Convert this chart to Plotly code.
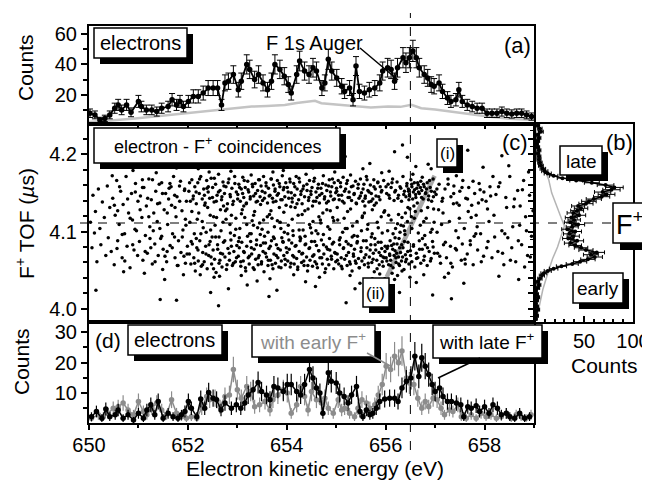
import plotly.graph_objects as go

# The page body has an 8 px margin, so the figure is drawn 8 px smaller and shifted.
OFF = 8
FW, FH = 642, 479
def PX(x): return (x - OFF) / FW
def PY(y): return 1 - (y - OFF) / FH

FONT = "Arial, Liberation Sans, sans-serif"

# ---------------- Panel (a): electrons ----------------
A_E = [650.02, 650.12, 650.22, 650.32, 650.42, 650.52, 650.59, 650.66, 650.76, 650.85,
       651.00, 651.06, 651.16, 651.27, 651.37, 651.47, 651.60, 651.68, 651.77, 651.84,
       651.91, 652.01, 652.11, 652.21, 652.31, 652.41, 652.51, 652.60, 652.68, 652.75,
       652.82, 652.92, 653.02, 653.08, 653.19, 653.25, 653.35, 653.43, 653.52, 653.61,
       653.69, 653.76, 653.86, 653.95, 654.03, 654.09, 654.20, 654.26, 654.36, 654.45,
       654.53, 654.60, 654.71, 654.77, 654.84, 654.91, 655.01, 655.11, 655.17, 655.27,
       655.34, 655.40, 655.47, 655.57, 655.67, 655.78, 655.88, 655.94, 656.04, 656.11,
       656.18, 656.24, 656.35, 656.41, 656.48, 656.55, 656.62, 656.68, 656.78, 656.85,
       656.92, 656.98, 657.08, 657.15, 657.25, 657.32, 657.42, 657.48, 657.55, 657.65,
       657.75, 657.85, 657.95, 658.05, 658.15, 658.25, 658.35, 658.45, 658.55, 658.65,
       658.75, 658.85, 658.95]
A_COUNTS = [7.8, 6.7, 3.3, 4.4, 6.7, 11.1, 13.3, 10.0, 13.3, 8.4,
            15.6, 12.2, 10.0, 10.0, 8.9, 11.1, 12.2, 16.7, 13.3, 15.6,
            12.2, 15.6, 18.9, 18.9, 21.1, 24.4, 24.4, 24.4, 13.3, 27.8,
            28.9, 33.3, 23.3, 28.9, 40.0, 36.7, 30.0, 33.3, 27.8, 23.3,
            28.9, 40.0, 36.7, 32.2, 26.7, 21.1, 33.3, 42.2, 35.6, 33.3,
            37.8, 35.6, 24.4, 27.8, 43.3, 35.6, 31.1, 25.6, 22.2, 24.4,
            16.7, 38.9, 22.2, 21.1, 23.3, 24.4, 27.8, 35.6, 37.8, 36.7,
            28.9, 37.8, 44.4, 41.1, 44.4, 48.9, 44.4, 37.8, 33.3, 31.1,
            26.7, 25.6, 27.8, 22.2, 17.8, 15.6, 16.7, 23.3, 15.6, 13.3,
            12.2, 11.1, 11.1, 7.8, 7.8, 7.8, 8.9, 7.8, 7.3, 7.8,
            7.8, 6.7, 5.6]
A_BG_E = [650.0, 650.12, 650.5, 650.93, 651.4, 651.94, 652.3, 652.61, 653.0, 653.29,
          653.6, 653.96, 654.2, 654.4, 654.57, 654.7, 655.0, 655.37, 655.7, 656.05,
          656.3, 656.52, 656.72, 657.0, 657.39, 657.7, 658.07, 658.5, 659.0]
A_BG = [2.0, 2.2, 3.2, 4.4, 6.0, 7.8, 8.6, 10.0, 11.0, 12.2,
        12.6, 13.3, 14.6, 15.5, 16.0, 14.4, 13.6, 12.2, 11.6, 12.2,
        12.0, 13.3, 11.1, 10.2, 8.4, 7.2, 5.6, 4.2, 3.3]

# ---------------- Panel (b): F+ TOF histogram ----------------
B_TOF = [3.987, 3.991, 3.995, 3.999, 4.003, 4.007, 4.011, 4.015, 4.019, 4.023,
         4.027, 4.031, 4.035, 4.039, 4.043, 4.046, 4.049, 4.052, 4.055, 4.058,
         4.061, 4.064, 4.067, 4.070, 4.073, 4.076, 4.079, 4.082, 4.085, 4.088,
         4.091, 4.094, 4.097, 4.100, 4.103, 4.106, 4.109, 4.112, 4.115, 4.118,
         4.121, 4.124, 4.127, 4.130, 4.133, 4.136, 4.139, 4.142, 4.145, 4.148,
         4.151, 4.154, 4.157, 4.160, 4.163, 4.166, 4.169, 4.172, 4.175, 4.178,
         4.181, 4.185, 4.189, 4.193, 4.197, 4.201, 4.205, 4.209, 4.213, 4.217,
         4.221, 4.225, 4.229, 4.233, 4.237]
B_COUNTS = [1, 2, 1, 3, 2, 1, 2, 3, 2, 1,
            3, 4, 3, 5, 7, 9, 13, 19, 27, 38,
            46, 54, 61, 57, 63, 52, 47, 41, 36, 43,
            34, 39, 35, 41, 33, 38, 44, 36, 40, 37,
            45, 39, 43, 47, 44, 52, 55, 60, 68, 73,
            69, 78, 81, 72, 58, 42, 28, 19, 13, 10,
            8, 6, 5, 4, 4, 3, 4, 3, 2, 3,
            4, 3, 6, 5, 3]
B_BG_TOF = [3.989, 4.002, 4.025, 4.050, 4.065, 4.080, 4.095, 4.107, 4.120, 4.137,
            4.150, 4.167, 4.189, 4.205, 4.220, 4.236]
B_BG = [2, 4, 8, 14, 18, 23, 27, 30, 26, 21, 17, 14, 7, 4, 2, 2]

# ---------------- Panel (c): electron - F+ coincidences (E in eV, TOF in us) ----------------
C_POINTS = [
 (650.03,4.112),(650.06,4.079),(650.08,4.147),(650.11,4.098),(650.13,4.126),(650.16,4.061),(650.19,4.155),(650.22,4.104),
 (650.24,4.083),(650.27,4.138),(650.31,4.118),(650.34,4.069),(650.37,4.159),(650.39,4.092),(650.42,4.131),(650.45,4.074),
 (650.48,4.143),(650.51,4.057),(650.53,4.121),(650.56,4.166),(650.58,4.088),(650.61,4.109),(650.64,4.152),(650.67,4.066),
 (650.69,4.135),(650.72,4.097),(650.75,4.171),(650.77,4.081),(650.80,4.124),(650.83,4.053),(650.86,4.149),(650.88,4.115),
 (650.91,4.076),(650.94,4.162),(650.96,4.101),(650.99,4.139),(650.14,4.024),(650.47,4.172),(650.70,4.048),(650.89,4.179),
 (651.02,4.087),(651.04,4.146),(651.07,4.118),(651.09,4.063),(651.11,4.157),(651.14,4.095),(651.16,4.133),(651.18,4.072),
 (651.21,4.168),(651.23,4.106),(651.26,4.141),(651.28,4.058),(651.31,4.124),(651.33,4.084),(651.35,4.152),(651.38,4.113),
 (651.40,4.069),(651.43,4.137),(651.45,4.091),(651.47,4.163),(651.50,4.077),(651.52,4.128),(651.55,4.149),(651.57,4.061),
 (651.59,4.109),(651.62,4.156),(651.64,4.082),(651.67,4.134),(651.69,4.097),(651.71,4.171),(651.74,4.066),(651.76,4.119),
 (651.78,4.145),(651.81,4.088),(651.83,4.159),(651.86,4.073),(651.88,4.127),(651.90,4.102),(651.93,4.153),(651.95,4.059),
 (651.97,4.139),(651.99,4.081),(651.12,4.046),(651.36,4.176),(651.49,4.051),(651.61,4.142),(651.73,4.093),(651.85,4.165),
 (651.92,4.068),(651.25,4.079),(651.42,4.161),(651.58,4.074),(651.66,4.158),(651.80,4.056),(651.95,4.116),(651.08,4.167),
 (651.30,4.101),(651.53,4.038),(651.77,4.182),(651.44,4.012),
 (652.02,4.152),(652.05,4.139),(652.08,4.167),(652.11,4.146),(652.14,4.158),(652.17,4.136),(652.20,4.163),(652.23,4.149),
 (652.26,4.171),(652.29,4.142),(652.32,4.155),(652.35,4.137),(652.38,4.166),(652.41,4.151),(652.44,4.143),(652.47,4.169),
 (652.50,4.157),(652.53,4.138),(652.56,4.161),(652.59,4.147),(652.62,4.174),(652.65,4.153),(652.68,4.141),(652.71,4.164),
 (652.74,4.149),(652.77,4.158),(652.80,4.136),(652.83,4.168),(652.86,4.145),(652.89,4.156),(652.92,4.139),(652.95,4.162),
 (652.98,4.151),(652.43,4.177),(652.72,4.133),
 (652.03,4.071),(652.06,4.058),(652.09,4.084),(652.12,4.066),(652.15,4.049),(652.18,4.079),(652.21,4.062),(652.24,4.088),
 (652.27,4.055),(652.30,4.073),(652.33,4.061),(652.36,4.081),(652.39,4.052),(652.42,4.069),(652.45,4.087),(652.48,4.058),
 (652.51,4.076),(652.54,4.064),(652.57,4.047),(652.60,4.083),(652.63,4.059),(652.66,4.072),(652.69,4.054),(652.72,4.086),
 (652.75,4.067),(652.78,4.051),(652.81,4.078),(652.84,4.063),(652.87,4.089),(652.90,4.056),(652.93,4.074),(652.96,4.061),
 (652.99,4.082),(652.25,4.044),(652.64,4.042),
 (652.04,4.112),(652.13,4.097),(652.22,4.124),(652.31,4.105),(652.40,4.131),(652.49,4.093),(652.58,4.118),(652.67,4.101),
 (652.76,4.127),(652.85,4.109),(652.94,4.095),(652.19,4.116),(652.55,4.108),(652.88,4.121),(652.37,4.099),
 (652.46,4.021),(652.61,4.188),(652.82,4.026),
 (653.01,4.148),(653.03,4.161),(653.06,4.139),(653.08,4.155),(653.11,4.170),(653.13,4.144),(653.16,4.157),(653.18,4.136),
 (653.21,4.165),(653.23,4.151),(653.26,4.142),(653.28,4.173),(653.31,4.158),(653.33,4.146),(653.36,4.162),(653.38,4.138),
 (653.41,4.153),(653.43,4.167),(653.46,4.145),(653.48,4.159),(653.51,4.140),(653.53,4.171),(653.56,4.150),(653.58,4.163),
 (653.61,4.137),(653.63,4.156),(653.66,4.147),(653.68,4.168),(653.71,4.143),(653.73,4.160),(653.76,4.152),(653.78,4.139),
 (653.81,4.166),(653.83,4.149),(653.86,4.158),(653.88,4.141),(653.91,4.172),(653.93,4.154),(653.96,4.145),(653.98,4.163),
 (653.02,4.068),(653.04,4.079),(653.07,4.055),(653.09,4.086),(653.12,4.062),(653.14,4.073),(653.17,4.049),(653.19,4.081),
 (653.22,4.066),(653.24,4.058),(653.27,4.087),(653.29,4.071),(653.32,4.053),(653.34,4.077),(653.37,4.064),(653.39,4.089),
 (653.42,4.057),(653.44,4.069),(653.47,4.082),(653.49,4.061),(653.52,4.074),(653.54,4.048),(653.57,4.085),(653.59,4.067),
 (653.62,4.056),(653.64,4.078),(653.67,4.063),(653.69,4.088),(653.72,4.052),(653.74,4.071),(653.77,4.059),(653.79,4.083),
 (653.82,4.066),(653.84,4.054),(653.87,4.076),(653.89,4.062),(653.92,4.087),(653.94,4.069),(653.97,4.057),(653.99,4.079),
 (653.05,4.104),(653.15,4.118),(653.25,4.097),(653.35,4.126),(653.45,4.111),(653.55,4.094),(653.65,4.122),(653.75,4.106),
 (653.85,4.131),(653.95,4.099),(653.10,4.128),(653.30,4.114),(653.50,4.103),(653.70,4.117),(653.90,4.092),
 (653.20,4.031),(653.60,4.184),(653.80,4.024),(653.40,4.036),
 (654.01,4.157),(654.04,4.143),(654.06,4.168),(654.09,4.150),(654.11,4.138),(654.14,4.162),(654.16,4.147),(654.19,4.171),
 (654.21,4.155),(654.24,4.141),(654.26,4.164),(654.29,4.152),(654.31,4.136),(654.34,4.159),(654.36,4.145),(654.39,4.174),
 (654.41,4.153),(654.44,4.140),(654.46,4.166),(654.49,4.148),(654.51,4.157),(654.54,4.139),(654.56,4.169),(654.59,4.151),
 (654.61,4.144),(654.64,4.161),(654.66,4.137),(654.69,4.156),(654.71,4.149),(654.74,4.172),(654.76,4.142),(654.79,4.160),
 (654.81,4.153),(654.84,4.139),(654.86,4.167),(654.89,4.146),(654.91,4.158),(654.94,4.141),(654.96,4.163),(654.99,4.150),
 (654.02,4.062),(654.05,4.077),(654.07,4.054),(654.10,4.085),(654.12,4.069),(654.15,4.058),(654.17,4.081),(654.20,4.065),
 (654.22,4.051),(654.25,4.074),(654.27,4.088),(654.30,4.060),(654.32,4.072),(654.35,4.056),(654.37,4.083),(654.40,4.067),
 (654.42,4.049),(654.45,4.078),(654.47,4.063),(654.50,4.087),(654.52,4.055),(654.55,4.070),(654.57,4.061),(654.60,4.082),
 (654.62,4.053),(654.65,4.075),(654.67,4.066),(654.70,4.089),(654.72,4.058),(654.75,4.071),(654.77,4.047),(654.80,4.080),
 (654.82,4.064),(654.85,4.057),(654.87,4.076),(654.90,4.068),(654.92,4.084),(654.95,4.052),(654.97,4.073),(654.99,4.061),
 (654.03,4.108),(654.13,4.095),(654.23,4.121),(654.33,4.102),(654.43,4.129),(654.53,4.113),(654.63,4.097),(654.73,4.124),
 (654.83,4.106),(654.93,4.118),(654.08,4.132),(654.28,4.091),(654.48,4.105),(654.68,4.115),(654.88,4.127),
 (654.18,4.188),(654.58,4.029),(654.78,4.193),(654.38,4.035),
 (655.01,4.152),(655.04,4.166),(655.06,4.141),(655.09,4.158),(655.11,4.147),(655.14,4.170),(655.16,4.137),(655.19,4.155),
 (655.21,4.162),(655.24,4.144),(655.26,4.151),(655.29,4.173),(655.31,4.140),(655.34,4.159),(655.36,4.148),(655.39,4.165),
 (655.41,4.136),(655.44,4.156),(655.46,4.143),(655.49,4.168),(655.51,4.150),(655.54,4.139),(655.56,4.161),(655.59,4.146),
 (655.61,4.171),(655.64,4.153),(655.66,4.138),(655.69,4.160),(655.71,4.149),(655.74,4.142),(655.76,4.167),(655.79,4.155),
 (655.81,4.137),(655.84,4.163),(655.86,4.145),(655.89,4.158),(655.91,4.151),(655.96,4.166),
 (655.02,4.071),(655.05,4.058),(655.07,4.083),(655.10,4.066),(655.12,4.052),(655.15,4.079),(655.17,4.064),(655.20,4.087),
 (655.22,4.056),(655.25,4.073),(655.27,4.061),(655.30,4.082),(655.32,4.049),(655.35,4.068),(655.37,4.077),(655.40,4.059),
 (655.42,4.085),(655.45,4.065),(655.47,4.053),(655.50,4.074),(655.52,4.062),(655.55,4.088),(655.57,4.057),(655.60,4.070),
 (655.62,4.079),(655.65,4.054),(655.67,4.067),(655.70,4.083),(655.72,4.060),(655.75,4.072),(655.77,4.048),(655.80,4.076),
 (655.82,4.063),(655.85,4.086),(655.87,4.057),(655.90,4.069),(655.92,4.078),(655.95,4.055),(655.97,4.066),(655.99,4.081),
 (655.88,4.045),(655.93,4.061),
 (655.03,4.115),(655.13,4.099),(655.23,4.126),(655.33,4.107),(655.43,4.094),(655.53,4.120),(655.63,4.103),(655.73,4.128),
 (655.83,4.112),(655.93,4.098),(655.58,4.133),(655.78,4.091),
 (655.18,4.197),(655.48,4.033),(655.68,4.188),(655.38,4.026),(655.98,4.039),
 (656.02,4.149),(656.05,4.161),(656.08,4.143),(656.11,4.157),(656.14,4.168),(656.17,4.140),(656.20,4.153),(656.23,4.164),
 (656.26,4.147),(656.29,4.158),(656.32,4.139),(656.35,4.171),(656.38,4.152),(656.41,4.145),(656.43,4.162),(656.46,4.155),
 (656.48,4.148),(656.51,4.167),(656.53,4.158),(656.56,4.151),(656.58,4.163),(656.61,4.144),(656.63,4.156),(656.66,4.160),
 (656.68,4.149),(656.71,4.165),(656.73,4.153),(656.76,4.142),(656.78,4.158),(656.81,4.150),(656.84,4.163),(656.87,4.146),
 (656.90,4.157),(656.93,4.139),(656.96,4.168),(656.99,4.151),(656.55,4.174),(656.64,4.137),(656.74,4.170),(656.47,4.141),
 (656.01,4.066),(656.03,4.078),(656.06,4.057),(656.08,4.071),(656.10,4.063),(656.12,4.082),(656.15,4.053),(656.17,4.069),
 (656.19,4.075),(656.21,4.060),(656.23,4.084),(656.26,4.067),(656.28,4.056),(656.30,4.073),(656.32,4.062),(656.35,4.079),
 (656.37,4.051),(656.40,4.070),(656.42,4.064),(656.45,4.086),(656.47,4.058),(656.50,4.075),(656.53,4.061),(656.56,4.081),
 (656.59,4.054),(656.62,4.072),(656.65,4.066),(656.68,4.088),(656.71,4.059),(656.74,4.077),(656.77,4.063),(656.80,4.083),
 (656.84,4.056),(656.88,4.074),(656.92,4.065),(656.96,4.080),(656.13,4.046),(656.24,4.043),(656.33,4.049),(656.09,4.088),
 (656.27,4.091),(656.38,4.087),
 (656.15,4.097),(656.20,4.104),(656.24,4.110),(656.29,4.099),(656.33,4.118),(656.36,4.107),(656.40,4.124),(656.44,4.113),
 (656.49,4.129),(656.52,4.119),(656.57,4.133),(656.60,4.126),(656.70,4.108),(656.82,4.117),(656.94,4.103),(656.06,4.121),
 (656.79,4.095),(656.97,4.129),
 (656.18,4.203),(656.34,4.212),(656.44,4.196),(656.28,4.021),(656.62,4.034),(656.86,4.187),
 (657.02,4.148),(657.05,4.072),(657.08,4.161),(657.11,4.059),(657.14,4.139),(657.17,4.083),(657.20,4.155),(657.23,4.066),
 (657.26,4.168),(657.29,4.113),(657.32,4.145),(657.35,4.054),(657.38,4.159),(657.41,4.078),(657.44,4.137),(657.47,4.092),
 (657.50,4.152),(657.53,4.063),(657.56,4.166),(657.59,4.104),(657.62,4.143),(657.65,4.071),(657.68,4.157),(657.71,4.088),
 (657.74,4.134),(657.77,4.057),(657.80,4.149),(657.83,4.121),(657.86,4.076),(657.89,4.162),(657.92,4.097),(657.95,4.141),
 (657.98,4.068),(657.07,4.128),(657.19,4.041),(657.31,4.081),(657.43,4.172),(657.55,4.084),(657.67,4.126),(657.79,4.094),
 (657.91,4.154),(657.13,4.109),(657.37,4.136),(657.61,4.058),(657.85,4.106),(657.22,4.179),(657.58,4.033),(657.97,4.183),
 (657.04,4.099),(657.49,4.117),
 (658.03,4.139),(658.07,4.087),(658.11,4.158),(658.15,4.066),(658.19,4.121),(658.23,4.148),(658.27,4.074),(658.31,4.163),
 (658.35,4.101),(658.39,4.057),(658.43,4.144),(658.47,4.092),(658.51,4.171),(658.55,4.079),(658.59,4.132),(658.63,4.061),
 (658.67,4.153),(658.71,4.108),(658.75,4.083),(658.79,4.166),(658.83,4.119),(658.87,4.069),(658.91,4.147),(658.95,4.094),
 (658.98,4.127),(658.09,4.113),(658.29,4.042),(658.49,4.185),(658.69,4.038),(658.89,4.177),(658.17,4.171),(658.57,4.106),
 (658.81,4.054),
 (651.77,4.011),(652.62,4.004),(653.64,4.016),(655.20,4.008),(657.33,4.013),(656.95,4.018),(652.95,4.221),(653.47,4.216),
 (657.66,4.205),(658.35,4.198),
]
C_POINTS_MORE = [
 (650.513,4.134),(650.566,4.078),(650.618,4.158),(650.672,4.096),(650.724,4.062),(650.781,4.142),(650.833,4.117),(650.884,4.083),
 (650.937,4.151),(650.983,4.069),(651.034,4.128),(651.082,4.157),(651.136,4.074),(651.187,4.143),(651.233,4.091),(651.284,4.167),
 (651.336,4.061),(651.387,4.136),(651.433,4.104),(651.486,4.149),(651.536,4.068),(651.583,4.124),(651.637,4.162),(651.684,4.079),
 (651.733,4.147),(651.786,4.056),(651.834,4.139),(651.887,4.093),(651.936,4.155),(651.983,4.071),(652.034,4.163),(652.067,4.087),
 (652.103,4.142),(652.137,4.059),(652.166,4.151),(652.204,4.076),(652.236,4.168),(652.263,4.097),(652.297,4.057),(652.334,4.147),
 (652.366,4.071),(652.387,4.156),
 (652.413,4.158),(652.427,4.083),(652.452,4.121),(652.468,4.067),(652.497,4.144),(652.519,4.052),(652.534,4.169),(652.561,4.093),
 (652.574,4.139),(652.603,4.077),(652.618,4.151),(652.647,4.063),(652.659,4.128),(652.688,4.145),(652.703,4.071),(652.729,4.159),
 (652.746,4.088),(652.772,4.116),(652.791,4.057),(652.815,4.163),(652.838,4.072),(652.853,4.148),(652.879,4.081),(652.907,4.135),
 (652.921,4.059),(652.946,4.171),(652.968,4.103),(652.983,4.066),
 (653.007,4.142),(653.024,4.087),(653.046,4.157),(653.069,4.061),(653.083,4.123),(653.107,4.149),(653.128,4.074),(653.139,4.166),
 (653.163,4.053),(653.184,4.137),(653.206,4.094),(653.217,4.154),(653.243,4.068),(653.262,4.145),(653.284,4.079),(653.303,4.161),
 (653.327,4.108),(653.342,4.051),(653.368,4.149),(653.386,4.083),(653.407,4.139),(653.423,4.066),(653.448,4.167),(653.464,4.096),
 (653.487,4.058),(653.503,4.152),(653.526,4.085),(653.547,4.143),(653.568,4.072),(653.583,4.159),(653.606,4.119),(653.627,4.063),
 (653.644,4.146),(653.667,4.081),(653.688,4.168),(653.703,4.057),(653.726,4.138),(653.746,4.091),(653.764,4.155),(653.787,4.069),
 (653.806,4.147),(653.824,4.078),(653.848,4.162),(653.867,4.112),(653.883,4.053),(653.907,4.141),(653.926,4.086),(653.943,4.157),
 (653.965,4.064),(653.986,4.134),
 (654.006,4.073),(654.027,4.151),(654.043,4.089),(654.068,4.164),(654.083,4.059),(654.107,4.143),(654.124,4.101),(654.146,4.067),
 (654.163,4.158),(654.187,4.082),(654.206,4.136),(654.223,4.054),(654.247,4.169),(654.266,4.093),(654.284,4.148),(654.303,4.071),
 (654.327,4.155),(654.344,4.062),(654.366,4.127),(654.383,4.084),(654.407,4.161),(654.426,4.056),(654.447,4.144),(654.463,4.079),
 (654.486,4.152),(654.504,4.098),(654.523,4.068),(654.547,4.165),(654.564,4.087),(654.586,4.139),(654.603,4.058),(654.627,4.156),
 (654.644,4.075),(654.663,4.147),(654.687,4.111),(654.706,4.066),(654.724,4.162),(654.743,4.083),(654.767,4.145),(654.786,4.052),
 (654.803,4.137),(654.827,4.077),(654.846,4.159),(654.864,4.091),(654.883,4.151),(654.906,4.064),(654.923,4.168),(654.947,4.086),
 (654.964,4.142),(654.983,4.072),
 (655.006,4.156),(655.024,4.063),(655.047,4.147),(655.063,4.089),(655.086,4.163),(655.103,4.055),(655.127,4.139),(655.144,4.078),
 (655.166,4.152),(655.183,4.104),(655.207,4.069),(655.226,4.166),(655.243,4.084),(655.267,4.144),(655.284,4.058),(655.306,4.158),
 (655.323,4.093),(655.347,4.071),(655.364,4.149),(655.386,4.062),(655.403,4.137),(655.427,4.087),(655.446,4.161),(655.463,4.053),
 (655.487,4.146),(655.504,4.079),(655.526,4.118),(655.543,4.155),(655.567,4.066),(655.584,4.143),(655.606,4.088),(655.623,4.167),
 (655.647,4.059),(655.664,4.151),(655.686,4.076),(655.703,4.139),(655.727,4.097),(655.746,4.064),(655.763,4.158),(655.787,4.083),
 (655.804,4.146),(655.826,4.052),(655.843,4.164),(655.867,4.073),(655.884,4.141),(655.906,4.086),(655.923,4.153),(655.947,4.067),
 (655.964,4.125),(655.986,4.074),
 (656.007,4.158),(656.024,4.062),(656.043,4.081),(656.066,4.147),(656.083,4.069),(656.104,4.056),(656.127,4.163),(656.143,4.077),
 (656.163,4.084),(656.184,4.151),(656.206,4.066),(656.223,4.072),(656.247,4.143),(656.264,4.058),(656.283,4.079),(656.306,4.156),
 (656.324,4.083),(656.342,4.067),(656.366,4.148),(656.384,4.101),(656.403,4.061),(656.426,4.159),(656.446,4.074),(656.463,4.152),
 (656.484,4.146),(656.503,4.069),(656.527,4.161),(656.546,4.142),(656.563,4.083),(656.584,4.154),(656.606,4.148),(656.624,4.065),
 (656.646,4.163),(656.663,4.151),(656.686,4.077),(656.703,4.157),(656.726,4.144),(656.744,4.091),(656.766,4.161),(656.783,4.068),
 (656.806,4.149),(656.827,4.155),(656.846,4.079),(656.864,4.141),(656.887,4.166),(656.906,4.062),(656.924,4.152),(656.947,4.087),
 (656.966,4.145),(656.985,4.072),
 (657.036,4.155),(657.094,4.068),(657.153,4.143),(657.207,4.086),(657.264,4.161),(657.318,4.059),(657.376,4.149),(657.433,4.076),
 (657.487,4.134),(657.544,4.157),(657.603,4.064),(657.656,4.142),(657.713,4.083),(657.767,4.165),(657.823,4.097),(657.876,4.137),
 (657.934,4.061),(657.987,4.151),(658.044,4.079),(658.123,4.146),(658.204,4.093),(658.283,4.158),(658.364,4.072),(658.446,4.131),
 (658.523,4.063),(658.604,4.142),(658.683,4.088),(658.766,4.154),(658.847,4.101),(658.926,4.067),
]
C_POINTS_GAP = [
 (650.58,4.127),(650.93,4.103),(651.21,4.119),(651.47,4.094),(651.74,4.131),(651.96,4.108),(652.08,4.126),(652.17,4.091),
 (652.29,4.113),(652.34,4.134),(652.46,4.102),(652.52,4.119),(652.63,4.093),(652.71,4.112),(652.79,4.129),(652.86,4.098),
 (652.97,4.117),(653.04,4.092),(653.13,4.133),(653.19,4.109),(653.28,4.097),(653.33,4.121),(653.41,4.105),(653.47,4.135),
 (653.53,4.115),(653.62,4.099),(653.68,4.127),(653.73,4.093),(653.81,4.114),(653.88,4.104),(653.94,4.125),(654.02,4.097),
 (654.11,4.116),(654.17,4.131),(654.25,4.102),(654.31,4.122),(654.37,4.094),(654.46,4.109),(654.52,4.133),(654.59,4.101),
 (654.65,4.119),(654.74,4.096),(654.81,4.128),(654.87,4.103),(654.95,4.114),(655.02,4.131),(655.08,4.092),(655.16,4.117),
 (655.22,4.104),(655.29,4.129),(655.36,4.095),(655.42,4.113),(655.51,4.101),(655.57,4.124),(655.64,4.109),(655.71,4.093),
 (655.77,4.134),(655.85,4.105),(655.91,4.119),(655.98,4.127),(656.04,4.101),(656.11,4.115),(656.19,4.092),(656.26,4.122),
 (656.31,4.108),(656.39,4.096),(656.45,4.131),(656.53,4.104),(656.58,4.117),(656.66,4.098),(656.72,4.127),(656.77,4.113),
 (656.85,4.131),(656.91,4.099),(656.98,4.112),(657.16,4.124),(657.42,4.101),(657.73,4.118),(658.06,4.129),(658.41,4.097),
 (658.72,4.133),
 (652.21,4.181),(652.87,4.178),(653.37,4.183),(653.93,4.179),(654.53,4.182),(654.97,4.177),(655.54,4.181),(656.07,4.178),
 (656.61,4.184),(656.92,4.181),(655.92,4.176),(653.72,4.177),
 (652.53,4.041),(653.08,4.043),(653.66,4.039),(654.14,4.044),(654.66,4.041),(655.28,4.043),(655.73,4.039),(656.18,4.038),
 (656.49,4.041),(656.77,4.044),(657.27,4.046),(651.91,4.044),
]
C_ALL = C_POINTS + C_POINTS_MORE + C_POINTS_GAP
C_E = [p[0] for p in C_ALL]
C_TOF = [p[1] for p in C_ALL]
DIAG_E = [656.02, 656.99]
DIAG_TOF = [4.041, 4.172]

# ---------------- Panel (d): electrons with early / late F+ ----------------
D_LATE = [
 (650.05,2.1),(650.15,3.8),(650.26,1.6),(650.34,4.6),(650.42,2.1),(650.53,2.7),(650.59,4.3),(650.69,1.6),
 (650.79,2.7),(650.90,1.0),(651.00,3.2),(651.10,1.6),(651.17,4.3),(651.25,6.0),(651.33,2.7),(651.40,7.1),
 (651.50,1.6),(651.60,3.2),(651.70,2.1),(651.80,1.6),(651.87,2.7),(651.94,3.8),(652.01,7.1),(652.07,4.9),
 (652.18,2.1),(652.26,7.9),(652.34,4.9),(652.42,10.1),(652.51,8.2),(652.58,7.7),(652.67,4.3),(652.75,6.6),
 (652.88,4.9),(652.98,6.0),(653.07,4.9),(653.15,6.6),(653.22,9.3),(653.32,11.0),(653.42,13.4),(653.49,10.4),
 (653.59,9.3),(653.66,7.7),(653.74,12.1),(653.82,11.6),(653.93,10.4),(654.01,12.7),(654.09,12.7),(654.20,10.4),
 (654.28,9.3),(654.36,12.7),(654.46,17.7),(654.53,14.9),(654.60,11.6),(654.67,9.9),(654.73,3.2),(654.84,16.6),
 (654.90,13.8),(655.00,13.2),(655.07,9.9),(655.16,8.8),(655.24,6.6),(655.31,9.3),(655.41,12.1),(655.48,3.8),
 (655.54,2.1),(655.61,4.3),(655.68,2.7),(655.74,3.2),(655.81,4.9),(655.88,7.1),(655.98,7.9),(656.08,8.2),
 (656.18,8.2),(656.25,7.1),(656.33,11.6),(656.42,13.8),(656.51,14.9),(656.59,22.1),(656.67,15.4),(656.73,21.6),
 (656.80,18.8),(656.87,16.0),(656.94,12.7),(657.00,10.4),(657.09,11.6),(657.16,8.8),(657.25,7.1),(657.33,7.1),
 (657.43,6.6),(657.52,6.0),(657.58,2.1),(657.66,5.4),(657.73,4.9),(657.83,5.7),(657.90,3.8),(658.00,5.4),
 (658.09,3.2),(658.17,6.0),(658.26,4.9),(658.34,2.7),(658.44,3.2),(658.51,2.1),(658.61,1.6),(658.71,3.2),
 (658.81,1.6),(658.91,2.1),
]
D_EARLY = [
 (650.05,1.6),(650.19,2.7),(650.29,2.1),(650.39,3.2),(650.49,4.9),(650.59,5.4),(650.69,6.6),(650.79,4.3),
 (650.90,2.7),(651.00,7.1),(651.10,3.8),(651.17,2.7),(651.27,4.9),(651.37,6.6),(651.47,4.3),(651.57,2.7),
 (651.67,7.7),(651.77,3.2),(651.87,2.1),(651.97,1.6),(652.07,2.1),(652.18,1.6),(652.28,4.9),(652.38,8.8),
 (652.44,7.7),(652.55,8.2),(652.65,5.4),(652.75,8.8),(652.84,9.3),(652.92,17.7),(653.00,11.0),(653.08,8.2),
 (653.19,12.1),(653.27,10.4),(653.35,5.4),(653.45,6.0),(653.56,7.1),(653.66,4.3),(653.72,7.7),(653.82,9.3),
 (653.93,11.0),(654.01,9.9),(654.09,3.2),(654.20,6.0),(654.28,12.1),(654.36,8.8),(654.43,4.3),(654.50,10.4),
 (654.60,7.7),(654.70,6.6),(654.77,8.2),(654.84,4.9),(654.94,3.2),(655.04,7.7),(655.11,4.3),(655.17,4.9),
 (655.27,3.2),(655.37,2.1),(655.44,4.9),(655.52,7.7),(655.61,6.6),(655.68,4.9),(655.78,6.0),(655.85,9.3),
 (655.93,12.7),(656.01,18.8),(656.10,17.7),(656.18,22.1),(656.26,19.9),(656.33,23.8),(656.42,14.9),(656.48,13.2),
 (656.57,12.7),(656.65,8.2),(656.73,4.9),(656.80,7.1),(656.87,5.4),(656.96,8.2),(657.04,7.7),(657.12,4.9),
 (657.19,2.7),(657.29,4.3),(657.36,3.8),(657.46,6.0),(657.53,2.1),(657.63,1.6),(657.73,2.7),(657.83,1.6),
 (657.93,3.2),(658.03,2.1),(658.13,2.7),(658.24,1.6),(658.34,2.1),(658.44,3.2),(658.54,1.6),(658.64,2.7),
 (658.74,2.1),(658.84,1.6),(658.94,2.7),
]
D_LATE_E = [p[0] for p in D_LATE]
D_LATE_C = [p[1] for p in D_LATE]
D_EARLY_E = [p[0] for p in D_EARLY]
D_EARLY_C = [p[1] for p in D_EARLY]

E_RANGE = [650, 659]
TOF_RANGE = [3.983, 4.239]
E_MARK = 656.5
TOF_MARK = 4.111
D_TICKS = [650, 652, 654, 656, 658]

GREY = "#8c8c8c"

fig = go.Figure()

# (a)
fig.add_trace(go.Scatter(x=A_BG_E, y=A_BG, mode="lines", line=dict(color="#c4c4c4", width=2.5),
                         xaxis="x", yaxis="y", hoverinfo="skip"))
fig.add_trace(go.Scatter(x=A_E, y=A_COUNTS, mode="lines+markers",
                         line=dict(color="black", width=1.8),
                         marker=dict(color="black", size=5.5),
                         error_y=dict(type="sqrt", color="black", thickness=1, width=3),
                         xaxis="x", yaxis="y"))
# (c)
fig.add_trace(go.Scatter(x=DIAG_E, y=DIAG_TOF, mode="lines", line=dict(color="#a8a8a8", width=4.5),
                         xaxis="x2", yaxis="y2", hoverinfo="skip"))
fig.add_trace(go.Scatter(x=C_E, y=C_TOF, mode="markers", marker=dict(color="black", size=3.5),
                         xaxis="x2", yaxis="y2"))
# (d)
fig.add_trace(go.Scatter(x=D_EARLY_E, y=D_EARLY_C, mode="lines+markers",
                         line=dict(color=GREY, width=1.5), marker=dict(color=GREY, size=5.5),
                         error_y=dict(type="sqrt", color=GREY, thickness=1.2, width=0),
                         xaxis="x3", yaxis="y3"))
fig.add_trace(go.Scatter(x=D_LATE_E, y=D_LATE_C, mode="lines+markers",
                         line=dict(color="black", width=1.5), marker=dict(color="black", size=5.5),
                         error_y=dict(type="sqrt", color="black", thickness=1.2, width=0),
                         xaxis="x3", yaxis="y3"))
# (b)
fig.add_trace(go.Scatter(x=B_BG, y=B_BG_TOF, mode="lines", line=dict(color="#b4b4b4", width=1.5),
                         xaxis="x4", yaxis="y4", hoverinfo="skip"))
fig.add_trace(go.Scatter(x=B_COUNTS, y=B_TOF, mode="lines+markers",
                         line=dict(color="black", width=1.5), marker=dict(color="black", size=4),
                         error_x=dict(type="sqrt", color="black", thickness=1, width=2),
                         xaxis="x4", yaxis="y4"))

X_MAIN = [PX(89), PX(534)]
X_B = [PX(535), PX(633)]
Y_A = [PY(124), PY(26)]
Y_C = [PY(322), PY(124)]
Y_D = [PY(423), PY(322)]

tickfont = dict(family=FONT, size=20, color="black")
base = dict(showline=True, linecolor="black", linewidth=2, mirror=True, showgrid=False,
            zeroline=False, tickcolor="black", tickwidth=1.5, tickfont=tickfont, automargin=False)
minor_out = dict(ticks="outside", ticklen=4, tickcolor="black", tickwidth=1.5)

fig.update_layout(
    template="none",
    width=FW, height=FH, autosize=False,
    margin=dict(l=0, r=0, t=0, b=0, pad=0),
    paper_bgcolor="white", plot_bgcolor="white",
    showlegend=False, hovermode=False,
    font=dict(family=FONT, color="black"),
    xaxis=dict(base, domain=X_MAIN, anchor="y", range=E_RANGE, ticks="", showticklabels=False),
    yaxis=dict(base, domain=Y_A, anchor="x", range=[0.7, 65.3], tickvals=[20, 40, 60],
               ticks="outside", ticklen=6, minor=dict(minor_out, tickvals=[10, 30, 50])),
    xaxis2=dict(base, domain=X_MAIN, anchor="y2", side="top", range=E_RANGE, ticks="inside",
                tick0=650, dtick=1, ticklen=5, showticklabels=False),
    yaxis2=dict(base, domain=Y_C, anchor="x2", range=TOF_RANGE, tick0=4.0, dtick=0.1, tickformat=".1f",
                ticks="outside", ticklen=6, minor=dict(minor_out, dtick=0.02)),
    xaxis3=dict(base, domain=X_MAIN, anchor="y3", range=E_RANGE, tickvals=D_TICKS,
                ticks="outside", ticklen=5, ticklabelstandoff=-2,
                minor=dict(minor_out, dtick=1, ticklen=3)),
    yaxis3=dict(base, domain=Y_D, anchor="x3", range=[0, 33.4], tickvals=[10, 20, 30],
                ticks="outside", ticklen=6, minor=dict(minor_out, tickvals=[5, 15, 25])),
    xaxis4=dict(base, domain=X_B, anchor="y4", range=[0, 100], tickvals=[50, 100],
                ticks="inside", ticklen=6, ticklabelstandoff=0,
                minor=dict(dtick=10, ticks="inside", ticklen=3, tickcolor="black", tickwidth=1.5)),
    yaxis4=dict(base, domain=Y_C, anchor="x4", range=TOF_RANGE, showticklabels=False,
                tick0=4.0, dtick=0.02, ticks="outside", ticklen=5,
                minor=dict(dtick=0.01, ticks="outside", ticklen=3, tickcolor="black", tickwidth=1)),
)

shapes = []
shapes.append(dict(type="line", xref="x3", yref="paper", x0=E_MARK, x1=E_MARK, y0=PY(450), y1=PY(13),
                   line=dict(color="black", width=1, dash="dash")))
shapes.append(dict(type="line", xref="paper", yref="y2", x0=PX(80), x1=PX(612), y0=TOF_MARK, y1=TOF_MARK,
                   line=dict(color="black", width=1, dash="dash")))

def box(x0, y0, x1, y1, off=6):
    shapes.append(dict(type="rect", xref="paper", yref="paper", x0=PX(x0 + off), x1=PX(x1 + off),
                       y0=PY(y1 + off), y1=PY(y0 + off), fillcolor="black", line=dict(width=0)))
    shapes.append(dict(type="rect", xref="paper", yref="paper", x0=PX(x0), x1=PX(x1),
                       y0=PY(y1), y1=PY(y0), fillcolor="white", line=dict(color="black", width=1.5)))

def seg(x0, y0, x1, y1, color="black", width=1.5):
    shapes.append(dict(type="line", xref="paper", yref="paper", x0=PX(x0), x1=PX(x1),
                       y0=PY(y0), y1=PY(y1), line=dict(color=color, width=width)))

box(94, 28, 187, 58)          # electrons (a)
box(94, 128, 340, 163)        # coincidences
box(437, 139, 457, 167)       # (i)
box(363, 278, 389, 307)       # (ii)
box(560, 146, 602, 175)       # late
box(573, 273, 623, 303)       # early
box(613, 203, 648, 243, 7)    # F+
box(128, 325, 222, 355)       # electrons (d)
box(252, 325, 375, 357)       # with early
box(433, 325, 542, 358)       # with late
seg(360, 48, 398, 80)         # Auger pointer
seg(367, 353, 392, 367, GREY) # early pointer
seg(480, 358, 438, 378)       # late pointer
fig.update_layout(shapes=shapes)

def txt(x, y, s, size=20, color="black", angle=0):
    return dict(x=PX(x), y=PY(y), xref="paper", yref="paper", text=s, showarrow=False,
                xanchor="center", yanchor="middle", textangle=angle,
                font=dict(family=FONT, size=size, color=color))

ann = [
    txt(25, 68, "Counts", 21, angle=-90),
    txt(25, 224, "F<sup>+</sup> TOF (<i>µ</i>s)", 21, angle=-90),
    txt(21, 362, "Counts", 21, angle=-90),
    txt(315, 468, "Electron kinetic energy (eV)", 21),
    txt(604, 365, "Counts", 21),
    txt(517, 45, "(a)", 22),
    txt(515, 142, "(c)", 22),
    txt(619, 143, "(b)", 22),
    txt(108, 340, "(d)", 21),
    txt(314, 43, "F 1s Auger", 20),
    txt(140, 43, "electrons", 20),
    txt(217, 146, "electron - F<sup>+</sup> coincidences", 18),
    txt(447, 153, "(i)", 17),
    txt(376, 293, "(ii)", 17),
    txt(581, 161, "late", 19),
    txt(598, 288, "early", 19),
    txt(630, 223, "F<sup>+</sup>", 27),
    txt(175, 340, "electrons", 20),
    txt(313, 341, "with early F<sup>+</sup>", 19, GREY),
    txt(487, 341, "with late F<sup>+</sup>", 19),
]
fig.update_layout(annotations=ann)

fig.write_html("out.html")
